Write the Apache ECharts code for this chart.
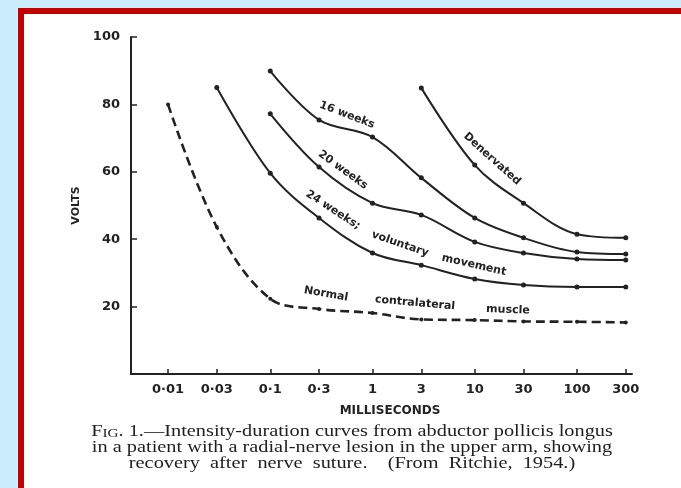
<!DOCTYPE html>
<html>
<head>
<meta charset="utf-8">
<script src="https://cdn.jsdelivr.net/npm/echarts@6/dist/echarts.min.js"></script>
<style>
  html, body { margin: 0; padding: 0; background: #cbedfc; }
  #frame { position: absolute; left: 18px; top: 8px; right: 0; bottom: 0; background: #fff;
           border-left: 6px solid #c30000; border-top: 6px solid #c30000; }
  #main { position: absolute; left: 0; top: 0; width: 681px; height: 488px; }
</style>
</head>
<body>
<div id="frame"></div>
<div id="main"></div>
<script>
// stimulus durations (ms) where the points were measured, and the axis labels
const msTicks = [0.01, 0.03, 0.1, 0.3, 1, 3, 10, 30, 100, 300]
const tickLabels = ['0·01', '0·03', '0·1', '0·3', '1', '3', '10', '30', '100', '300']

// volts needed at each duration (null = not measured)
const normal     = [80, 43.6, 22.3, 19.3, 18.1, 16.2, 16.0, 15.6, 15.5, 15.3]
const week24     = [null, 85, 59.6, 46.3, 35.9, 32.3, 28.2, 26.4, 25.8, 25.8]
const week20     = [null, null, 77.2, 61.4, 50.7, 47.2, 39.2, 35.9, 34.1, 33.8]
const week16     = [null, null, 89.9, 75.4, 70.3, 58.2, 46.3, 40.4, 36.2, 35.6]
const denervated = [null, null, null, null, null, 84.9, 62, 50.7, 41.5, 40.4]

const ink = '#222'
const lg = v => Math.log10(v)
const pairs = vals => vals.map((v, i) => v == null ? null : [lg(msTicks[i]), v]).filter(Boolean)

const curve = (name, vals, dashed) => ({
  name, type: 'line', data: pairs(vals),
  smooth: 0.35, symbol: 'circle', symbolSize: dashed ? 4 : 5,
  itemStyle: { color: ink },
  lineStyle: { color: ink, width: dashed ? 2.6 : 2, type: dashed ? [9, 5] : 'solid' },
  animation: false
})

const lettering = '"DejaVu Sans", sans-serif'
const note = (text, x, y, deg, size) => ({
  type: 'text', x, y, rotation: -deg * Math.PI / 180,
  style: { text, fill: ink, font: `bold ${size || 11}px ${lettering}`, align: 'center', verticalAlign: 'middle' }
})
// the printed caption is set wide, so stretch it sideways
const serif = '"Liberation Serif", "DejaVu Serif", serif'
const caption = (text, y) => ({
  type: 'text', x: 352, y, scaleX: 1.27,
  style: {
    text, fill: '#1e1e1e', font: `16px ${serif}`, align: 'center', verticalAlign: 'middle',
    rich: { sc: { font: `12px ${serif}`, fill: '#1e1e1e', verticalAlign: 'bottom' } }
  }
})

const chart = echarts.init(document.getElementById('main'))
chart.setOption({
  animation: false,
  grid: { left: 131, right: 49, top: 37, bottom: 114 },
  xAxis: {
    type: 'value', min: -2.362, max: 2.538,
    axisLine: { onZero: false, lineStyle: { color: ink, width: 2 } },
    axisTick: { show: true, inside: true, length: 5, customValues: msTicks.map(lg), lineStyle: { color: ink, width: 1.5 } },
    axisLabel: {
      customValues: msTicks.map(lg), margin: 9, color: ink,
      fontFamily: 'DejaVu Sans', fontWeight: 'bold', fontSize: 13,
      formatter: v => tickLabels[msTicks.findIndex(m => Math.abs(lg(m) - v) < 1e-6)] || ''
    },
    splitLine: { show: false }
  },
  yAxis: {
    type: 'value', min: 0, max: 100, interval: 20,
    name: 'VOLTS', nameLocation: 'middle', nameGap: 39,
    nameTextStyle: { color: ink, fontFamily: 'DejaVu Sans', fontWeight: 'bold', fontSize: 11 },
    axisLine: { show: true, onZero: false, lineStyle: { color: ink, width: 2 } },
    axisTick: { show: true, inside: true, length: 6, lineStyle: { color: ink, width: 1.5 } },
    axisLabel: {
      margin: 11, color: ink, fontFamily: 'DejaVu Sans', fontWeight: 'bold', fontSize: 13,
      formatter: v => v === 0 ? '' : String(v)
    },
    splitLine: { show: false }
  },
  series: [
    curve('Normal contralateral muscle', normal, true),
    curve('24 weeks', week24),
    curve('20 weeks', week20),
    curve('16 weeks', week16),
    curve('Denervated', denervated)
  ],
  graphic: [
    note('16 weeks', 347, 115, 21),
    note('20 weeks', 343, 170, 36),
    note('24 weeks;', 333, 210, 33),
    note('voluntary', 400, 244, 19),
    note('movement', 474, 265, 13),
    note('Denervated', 492, 159, 42),
    note('Normal', 326, 294, 10),
    note('contralateral', 415, 303, 5),
    note('muscle', 508, 310, 2),
    { type: 'text', x: 390, y: 411,
      style: { text: 'MILLISECONDS', fill: ink, font: `bold 12px ${lettering}`, align: 'center', verticalAlign: 'middle' } },
    caption('F{sc|IG}. 1.—Intensity-duration curves from abductor pollicis longus', 432),
    caption('in a patient with a radial-nerve lesion in the upper arm, showing', 448),
    caption('recovery  after  nerve  suture.    (From  Ritchie,  1954.)', 464)
  ]
})
</script>
</body>
</html>
